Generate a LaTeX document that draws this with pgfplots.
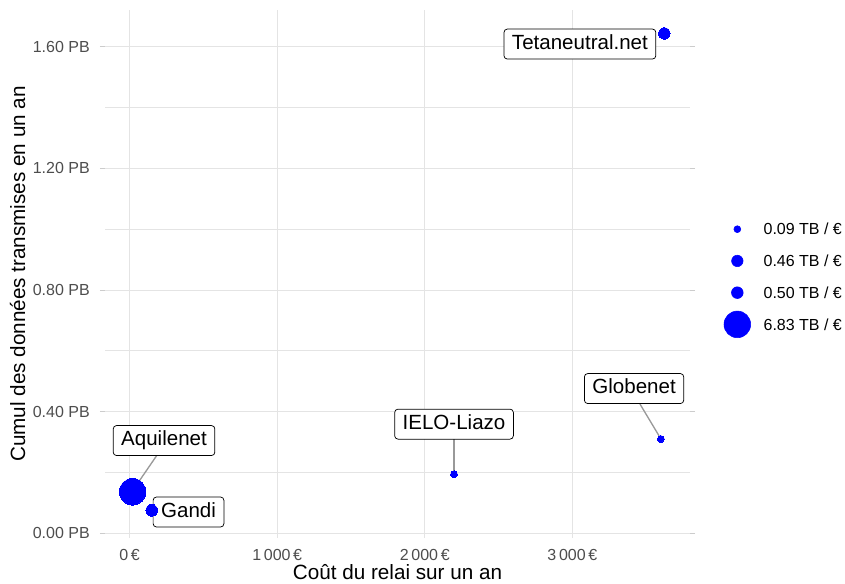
\documentclass[border=0pt]{standalone}
\usepackage{pgfplots}
\pgfplotsset{compat=1.18}
\usepackage{fontspec}
\setmainfont{Liberation Sans}
\definecolor{gridc}{RGB}{228,228,228}
\definecolor{tickc}{RGB}{77,77,77}
\definecolor{segc}{RGB}{153,153,153}
\definecolor{ptc}{RGB}{0,0,255}
\tikzset{lbl/.style={draw=black, line width=0.55pt, fill=white, rounded corners=2.5pt,
    font=\fontsize{15.4}{18}\selectfont, inner xsep=6pt, inner ysep=0pt,
    minimum height=22.5pt, text height=11pt, text depth=3.4pt, anchor=center}}
\begin{document}
\begin{tikzpicture}[x=1pt,y=1pt]
\path[use as bounding box] (0,0) rectangle (633.75,437.25);
\begin{axis}[
  at={(78.75pt,33.75pt)}, anchor=south west,
  scale only axis, width=438.75pt, height=396pt,
  xmin=-167, xmax=3797, ymin=-0.0155, ymax=1.721,
  clip=false,
  axis line style={draw=none},
  xtick={0,1000,2000,3000},
  xticklabels={0\,€,1\,000\,€,2\,000\,€,3\,000\,€},
  ytick={0,0.4,0.8,1.2,1.6},
  yticklabels={0.00 PB,0.40 PB,0.80 PB,1.20 PB,1.60 PB},
  minor ytick={0.2,0.6,1.0,1.4},
  grid=both,
  major grid style={gridc, line width=0.8pt},
  minor grid style={gridc, line width=0.55pt},
  tick align=outside,
  major tick length=3.75pt, minor tick length=0pt,
  xtick style={draw=none},
  ytick style={draw=gray!40, line width=0.8pt},
  ticklabel style={font=\fontsize{12}{14}\selectfont, text=tickc},
  xticklabel style={anchor=base, inner sep=0pt, yshift=-12.75pt},
  yticklabel style={anchor=east, inner sep=0pt, xshift=-7.5pt},
  xlabel={Coût du relai sur un an},
  ylabel={Cumul des données transmises en un an},
  label style={font=\fontsize{15.5}{18}\selectfont, text=black},
  xlabel style={at={(axis description cs:0.5,-0.0795)}, anchor=base, inner sep=0pt},
  ylabel style={at={(axis description cs:-0.1367,0.5)}, anchor=base, inner sep=0pt},
  legend style={at={(axis description cs:1,0.4947)}, anchor=west, xshift=26.8pt,
    draw=none, fill=none, inner sep=0pt, outer sep=0pt,
    column sep=11pt, row sep=15.2pt,
    cells={anchor=west},
    nodes={inner sep=0pt, text height=8.6pt, text depth=0pt, font=\fontsize{12}{14}\selectfont}},
]
% connector segments
\addplot[segc, line width=1pt, forget plot] coordinates {(186,0.2575) (68,0.174)};
\addplot[segc, line width=1pt, forget plot] coordinates {(2198,0.310) (2198,0.2055)};
\addplot[segc, line width=1pt, forget plot] coordinates {(3458,0.425) (3588,0.320)};
% points
\addplot[ptc, only marks, mark=*, mark size=2.6pt, mark options={draw=ptc, fill=ptc, line width=0pt},
  legend image code/.code={\path (0pt,0pt) (17pt,0pt); \fill[ptc,overlay] (8.5pt,0pt) circle[radius=2.6pt];}]
  coordinates {(2198,0.194) (3600,0.310)};
\addlegendentry{0.09 TB / €}
\addplot[ptc, only marks, mark=*, mark size=4.3pt, mark options={draw=ptc, fill=ptc, line width=0pt},
  legend image code/.code={\path (0pt,0pt) (17pt,0pt); \fill[ptc,overlay] (8.5pt,0pt) circle[radius=4.3pt];}]
  coordinates {(3623,1.644)};
\addlegendentry{0.46 TB / €}
\addplot[ptc, only marks, mark=*, mark size=4.4pt, mark options={draw=ptc, fill=ptc, line width=0pt},
  legend image code/.code={\path (0pt,0pt) (17pt,0pt); \fill[ptc,overlay] (8.5pt,0pt) circle[radius=4.4pt];}]
  coordinates {(150,0.0756)};
\addlegendentry{0.50 TB / €}
\addplot[ptc, only marks, mark=*, mark size=10pt, mark options={draw=ptc, fill=ptc, line width=0pt},
  legend image code/.code={\path (0pt,0pt) (17pt,0pt); \fill[ptc,overlay] (8.5pt,0pt) circle[radius=10pt];}]
  coordinates {(20,0.1366)};
\addlegendentry{6.83 TB / €}
% labels
\node[lbl] at (axis cs:233,0.305) {Aquilenet};
\node[lbl] at (axis cs:399,0.070) {Gandi};
\node[lbl] at (axis cs:2198,0.359) {IELO-Liazo};
\node[lbl] at (axis cs:3418,0.476) {Globenet};
\node[lbl] at (axis cs:3051,1.609) {Tetaneutral.net};
\end{axis}
\end{tikzpicture}
\end{document}
